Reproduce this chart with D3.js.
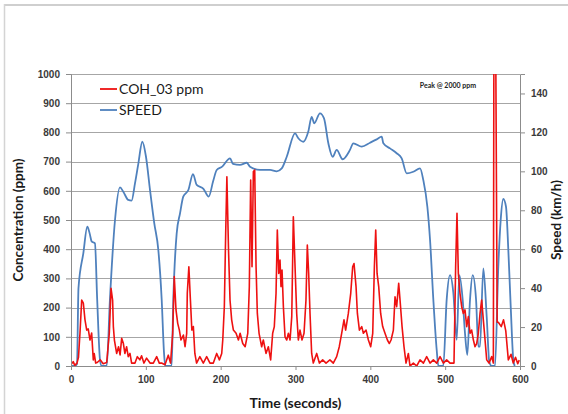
<!DOCTYPE html>
<html>
<head>
<meta charset="utf-8">
<script src="https://cdn.jsdelivr.net/npm/d3@7"></script>
<style>
    body { margin: 0; background: #fff; }
    svg { display: block; font-family: Lato, "Open Sans", sans-serif; }
</style>
</head>
<body>
<div class="graph-container"></div>
<script>
const svgWidth = 568;
const svgHeight = 414;
const margin = { top: 74, right: 48, bottom: 48, left: 71 };
const chartWidth = svgWidth - margin.left - margin.right;
const chartHeight = svgHeight - margin.top - margin.bottom;

// COH_03 concentration (ppm) against time (s)
const cohTime = [0, 3, 5, 8, 10, 12, 14.3, 16.5, 18.7, 21, 23, 25.4, 27.6, 29.8, 31, 33, 35, 39, 43, 47.7,
    51.2, 53.5, 55.6, 56.6, 58, 61, 63.5, 65.6, 67.7, 70, 72, 74.3, 76.5, 78.8, 81, 85.5, 88.6, 92, 94.3, 97.4,
    101, 105.6, 110, 114.5, 118, 121, 125.6, 130, 133, 135.9, 138, 140.3, 142.6, 144.8, 147, 150.2, 152.4, 154.6,
    155.4, 157.5, 159.5, 161.5, 163.5, 165.5, 167.8, 172.2, 176.8, 181.3, 185.7, 190.2, 194.7, 198.3, 201.4, 202.8,
    204.9, 206.7, 208.3, 210.5, 212.5, 214.7, 217, 220.6, 223.7, 226, 229.5, 232.7, 236.2, 238.3, 240.1, 241.9,
    243.7, 245.5, 247.3, 249, 251.3, 254.8, 257, 260.6, 263.7, 266.8, 269.5, 271.7, 274, 275.7, 277.6, 279.3,
    280.6, 282, 283.8, 286, 288.3, 290.5, 292.7, 295, 297.1, 299.4, 301.6, 303.8, 306, 308.7, 311.4, 314, 315.8,
    317.6, 319.4, 321.6, 323.8, 328.3, 331.9, 336.3, 340.8, 346, 350.5, 355, 358.5, 361.7, 364.8, 367, 370.6,
    373.8, 376.4, 378.2, 380.9, 382.7, 385.4, 388.5, 390.7, 394.3, 397.4, 400.5, 403.2, 405.4, 407.2, 409, 411.2,
    413.8, 416.5, 419.6, 422.8, 425.4, 427.7, 430.8, 433, 435.2, 437.9, 439.7, 442.4, 445, 447.7, 450.8, 453,
    457.5, 462, 466.4, 470.9, 475.3, 479.8, 484.2, 488.7, 493.2, 497.6, 502, 506.5, 511.8, 514, 515.8, 517.6,
    519.8, 522.1, 524.3, 526.5, 528.8, 531, 533.2, 535.4, 537.7, 539.9, 542.1, 544.3, 546.6, 548.8, 551, 553.3,
    555.5, 558.6, 562.2, 564.4, 565.7, 569.5, 571, 575, 578, 581, 584.4, 588, 591, 594, 597, 599];
const cohValues = [5, 15, 2, 10, 30, 113, 226, 215, 158, 123, 127, 89, 113, 21, 43, 10, 12, 21, 8, 12,
    113, 266, 226, 135, 89, 43, 66, 38, 95, 77, 43, 66, 32, 43, 10, 10, 32, 21, 35, 10,
    27, 10, 10, 32, 10, 10, 4, 37, 10, 112, 306, 192, 146, 123, 89, 106, 66, 112,
    249, 340, 230, 123, 135, 43, 10, 32, 10, 32, 10, 10, 43, 21, 43, 89,
    203, 454, 648, 397, 226, 158, 123, 112, 89, 112, 77, 66, 112, 272, 637, 340,
    666, 671, 340, 180, 112, 66, 89, 43, 66, 21, 112, 135, 249, 466, 317, 363,
    272, 329, 203, 100, 89, 112, 89, 169, 511, 340, 180, 89, 123, 89, 112, 226, 414,
    317, 180, 43, 10, 43, 10, 21, 10, 21, 10, 32, 66, 112, 158, 123, 180,
    249, 340, 351, 272, 180, 123, 135, 112, 123, 89, 66, 112, 340, 466, 317, 272,
    180, 135, 112, 89, 77, 89, 123, 237, 203, 283, 226, 135, 66, 10, 43, 0,
    10, 0, 21, 10, 32, 10, 21, 10, 32, 10, 21, 10, 10, 340, 523, 317,
    249, 203, 180, 192, 135, 169, 112, 123, 89, 66, 77, 112, 180, 226, 158, 89,
    21, 10, 32, 10, 2000, 150, 150, 135, 158, 120, 21, 40, 10, 30, 8, 20];

// vehicle speed (km/h) against time (s)
const speedTime = [0, 5, 8, 10, 16.5, 21.8, 25, 27.6, 32, 35, 38.8, 41, 47.7, 52, 58.8, 65.5, 69.9, 76.6, 81,
    85.5, 90, 95.3, 100.2, 105.6, 111.3, 116.7, 121.2, 124.3, 126, 134.5, 136.7, 141.2, 145.7, 150, 156.8, 163,
    168, 177, 184, 190, 194.7, 202, 212.5, 216.5, 225.8, 234.8, 239.2, 252.6, 266, 274.9, 281.6, 288.3, 299.4,
    303.8, 310.5, 317.1, 321.6, 325, 332.7, 338.1, 343.9, 349.7, 355, 363, 372.8, 377.3, 388.5, 399.6, 408.5,
    415.2, 417.4, 426.3, 435.2, 441.9, 448.6, 457.4, 466.4, 470.8, 476.2, 479.8, 484.2, 488.7, 490.9, 497.5,
    502, 506.5, 510.9, 515.4, 518.9, 523.4, 526.5, 529.6, 533.2, 536.8, 541.3, 544.3, 546.5, 551, 555.5, 559,
    562, 566.6, 571, 574.2, 577.7, 581.3, 584.4, 587.6, 591.1, 593];
const speedValues = [0, 0, 1, 40, 58, 71.6, 68, 64, 63, 34, 3, 0, 0, 34, 75, 91.8, 89.5, 85.3, 85,
    93.8, 104, 115.2, 107.5, 90.4, 73.3, 59.6, 34, 6.7, 0, 0, 34, 68, 78.4, 87, 90.4, 98.6,
    93, 91, 87, 95, 100.7, 102.4, 106.7, 103.8, 103.3, 104.4, 102.4, 100.7, 100.7, 100, 101.5, 107.5, 119.5,
    117, 115.2, 120.4, 128, 124.7, 129.8, 127.2, 114.4, 107.5, 111, 106.2, 111, 114.4, 112.7, 114.7, 116.4,
    117.8, 114.4, 111.8, 109.3, 106.7, 99, 99.8, 101.5, 95.5, 81.8, 64.7, 34, 8.2, 0, 0,
    34, 46.7, 37.7, 13.4, 46.7, 34, 16.8, 5.7, 34, 46.7, 34, 10, 10, 50.2, 25.3, 2,
    0, 0, 51, 75, 85.8, 81.8, 59.6, 30.5, 3, 0];

const timeTicks = [0, 100, 200, 300, 400, 500, 600];
const concTicks = [0, 100, 200, 300, 400, 500, 600, 700, 800, 900, 1000];
const speedTicks = [0, 20, 40, 60, 80, 100, 120, 140];

const seriesNames = ["COH_03 ppm", "SPEED"];
const seriesColors = ["#ee1111", "#4f81bd"];

function drawGraph() {

    const xScale = d3.scaleLinear()
        .domain([0, 600])
        .range([0, chartWidth]);

    const yScale = d3.scaleLinear()
        .domain([0, 1000])
        .range([chartHeight, 0]);

    const ySpeed = d3.scaleLinear()
        .domain([0, 150])
        .range([chartHeight, 0]);

    const svg = d3.select(".graph-container")
        .append("svg")
        .attr("width", svgWidth)
        .attr("height", svgHeight);

    // outer frame of the chart object (only top and left show)
    svg.append("line")
        .attr("x1", 4).attr("x2", svgWidth).attr("y1", 5).attr("y2", 5)
        .attr("stroke", "#cfcfcf").attr("stroke-width", 2);
    svg.append("line")
        .attr("x1", 4.5).attr("x2", 4.5).attr("y1", 4).attr("y2", svgHeight)
        .attr("stroke", "#d4d4d4").attr("stroke-width", 1.5);

    svg.append("clipPath")
        .attr("id", "plot-clip")
        .append("rect")
        .attr("x", 0).attr("y", 0)
        .attr("width", chartWidth).attr("height", chartHeight);

    const chart = svg.append("g")
        .attr("transform", `translate(${margin.left},${margin.top})`);

    // horizontal gridlines
    chart.append("g")
        .selectAll("line")
        .data(concTicks.filter(d => d > 0))
        .enter()
        .append("line")
        .attr("x1", 0)
        .attr("x2", chartWidth)
        .attr("y1", d => Math.round(yScale(d)) + 0.5)
        .attr("y2", d => Math.round(yScale(d)) + 0.5)
        .attr("stroke", "#a6a6a6")
        .attr("stroke-width", 1);

    const cohLine = d3.line()
        .x((d, i) => xScale(cohTime[i]))
        .y(d => yScale(d));

    const speedLine = d3.line()
        .x((d, i) => xScale(speedTime[i]))
        .y(d => ySpeed(d))
        .curve(d3.curveMonotoneX);

    const lines = chart.append("g")
        .attr("clip-path", "url(#plot-clip)");

    lines.append("path")
        .datum(speedValues)
        .attr("d", speedLine)
        .attr("fill", "none")
        .attr("stroke", seriesColors[1])
        .attr("stroke-width", 1.8)
        .attr("stroke-linejoin", "round");

    lines.append("path")
        .datum(cohValues)
        .attr("d", cohLine)
        .attr("fill", "none")
        .attr("stroke", seriesColors[0])
        .attr("stroke-width", 1.6)
        .attr("stroke-linejoin", "round");

    const xAxis = d3.axisBottom(xScale)
        .tickValues(timeTicks)
        .tickFormat(d3.format("d"))
        .tickSize(4)
        .tickPadding(6);
    const yAxis = d3.axisLeft(yScale)
        .tickValues(concTicks)
        .tickFormat(d3.format("d"))
        .tickSize(5)
        .tickPadding(6);
    const yAxisRight = d3.axisRight(ySpeed)
        .tickValues(speedTicks)
        .tickFormat(d3.format("d"))
        .tickSize(5)
        .tickPadding(6);

    const axes = [
        chart.append("g").attr("transform", `translate(0,${chartHeight})`).call(xAxis),
        chart.append("g").call(yAxis),
        chart.append("g").attr("transform", `translate(${chartWidth},0)`).call(yAxisRight)
    ];
    axes.forEach(g => {
        g.select(".domain").attr("stroke", "#8c8c8c");
        g.selectAll(".tick line").attr("stroke", "#8c8c8c");
        g.selectAll(".tick text")
            .attr("fill", "#3a3a3a")
            .style("font-size", "10px")
            .style("font-weight", "bold");
    });

    // legend
    const legend = chart.append("g")
        .attr("transform", "translate(29,15)");
    seriesNames.forEach((name, i) => {
        legend.append("line")
            .attr("x1", 0).attr("x2", 17)
            .attr("y1", i * 21).attr("y2", i * 21)
            .attr("stroke", seriesColors[i])
            .attr("stroke-width", 1.8);
        legend.append("text")
            .attr("x", 19)
            .attr("y", i * 21 + 5)
            .attr("fill", "#1a1a1a")
            .style("font-size", "14px")
            .text(name);
    });

    chart.append("text")
        .attr("x", 377)
        .attr("y", 14)
        .attr("text-anchor", "middle")
        .attr("fill", "#222")
        .style("font-size", "7px")
        .style("font-weight", "bold")
        .text("Peak @ 2000 ppm");

    // axis titles
    svg.append("text")
        .attr("transform", "rotate(-90)")
        .attr("x", -220)
        .attr("y", 23)
        .attr("text-anchor", "middle")
        .attr("fill", "#1a1a1a")
        .style("font-size", "13.5px")
        .style("font-weight", "bold")
        .text("Concentration (ppm)");

    svg.append("text")
        .attr("transform", "rotate(-90)")
        .attr("x", -220)
        .attr("y", 561)
        .attr("text-anchor", "middle")
        .attr("fill", "#1a1a1a")
        .style("font-size", "13.5px")
        .style("font-weight", "bold")
        .text("Speed (km/h)");

    svg.append("text")
        .attr("x", margin.left + xScale(300))
        .attr("y", 408)
        .attr("text-anchor", "middle")
        .attr("fill", "#1a1a1a")
        .style("font-size", "14px")
        .style("font-weight", "bold")
        .text("Time (seconds)");
}

drawGraph();
</script>
</body>
</html>
